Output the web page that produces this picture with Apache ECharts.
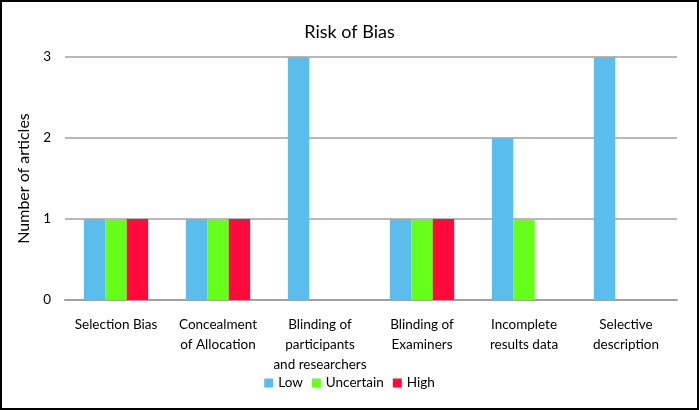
<!DOCTYPE html>
<html><head><meta charset="utf-8">
<script src="https://cdn.jsdelivr.net/npm/echarts@6/dist/echarts.min.js"></script>
<style>
html,body{margin:0;padding:0;background:#fff;}
#c{position:absolute;left:0;top:0;width:695px;height:406px;border:2px solid #000;}
</style></head><body>
<div id="c"></div>
<script>
const categories = ["Selection Bias","Concealment\nof Allocation","Blinding of\nparticipants\nand researchers","Blinding of\nExaminers","Incomplete\nresults data","Selective\ndescription"];
const low = [1,1,3,1,2,3];
const uncertain = [1,1,0,1,1,0];
const high = [1,1,0,1,0,0];
const yTicks = [0,1,2,3];
const FONT = "Lato, 'Open Sans', sans-serif";
const chart = echarts.init(document.getElementById('c'));
chart.setOption({
  animation:false,
  textStyle:{fontFamily:FONT},
  title:{text:"Risk of Bias",left:'center',top:16,textStyle:{fontFamily:FONT,fontSize:18,fontWeight:'normal',color:'#000'}},
  legend:{bottom:13,left:'center',itemWidth:9,itemHeight:9,itemGap:9,icon:'rect',textStyle:{fontFamily:FONT,fontSize:13.5,color:'#000'},data:["Low","Uncertain","High"]},
  grid:{left:63,right:20,top:55,bottom:108},
  xAxis:{type:'category',data:categories,axisTick:{show:false},
    axisLine:{lineStyle:{color:'#A0A0A0',width:2}},
    axisLabel:{interval:0,fontFamily:FONT,fontSize:13.5,color:'#000',margin:15,lineHeight:20}},
  yAxis:{type:'value',min:0,max:3,interval:1,name:"Number of articles",nameLocation:'middle',nameGap:33,
    nameTextStyle:{fontFamily:FONT,fontSize:16,color:'#000'},
    axisLabel:{fontFamily:FONT,fontSize:13.5,color:'#000',margin:14,formatter:v=>yTicks.includes(v)?String(v):''},
    splitLine:{lineStyle:{color:'#A0A0A0',width:1.5}},axisLine:{show:false},axisTick:{show:false}},
  series:[
    {name:"Low",type:'bar',data:low,barGap:'0%',barCategoryGap:'37%',itemStyle:{color:'#5BBDEB'}},
    {name:"Uncertain",type:'bar',data:uncertain,itemStyle:{color:'#66FF1A'}},
    {name:"High",type:'bar',data:high,itemStyle:{color:'#FF0A3A'}}
  ]
});
</script></body></html>
